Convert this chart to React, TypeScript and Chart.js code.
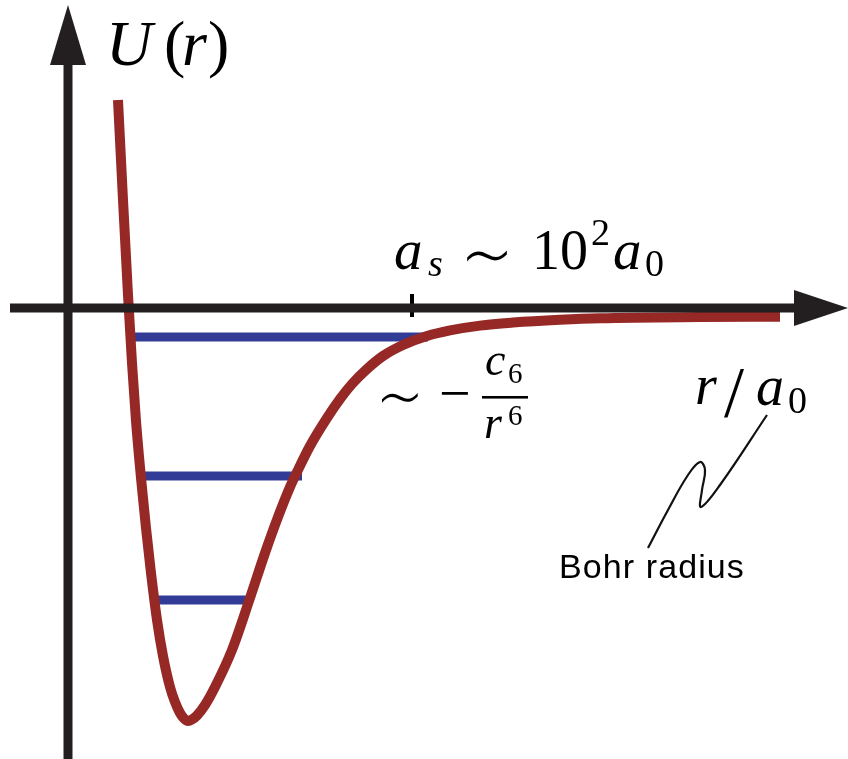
import { useEffect, useRef } from "react";
import { Chart, registerables } from "chart.js";

Chart.register(...registerables);

const WIDTH = 848;
const HEIGHT = 759;

// Plot window in diagram units (r to the right, U upwards)
const R_MIN = -6.8;
const R_MAX = 78.0;
const U_MIN = -45.1;
const U_MAX = 30.8;

// Potential energy curve U(r): repulsive wall, well, and -c6/r^6 tail
const curveR = [5.0, 5.5, 6.0, 6.4, 6.8, 7.3, 7.8, 8.3, 8.9, 9.5, 10.2, 10.7, 11.2, 11.6, 12.0, 12.4, 12.9, 13.7, 14.7, 16.4, 18.2, 19.7, 21.0, 22.2, 22.9, 24.2, 25.9, 27.2, 28.4, 29.9, 31.5, 33.5, 35.9, 38.2, 41.2, 44.5, 49.2, 53.2, 63.2, 71.2];
const curveU = [20.8, 10.8, 1.3, -5.5, -11.3, -17.0, -22.0, -26.5, -31.2, -34.8, -37.9, -39.4, -40.5, -41.05, -41.3, -41.15, -40.75, -39.7, -37.9, -34.2, -29.0, -24.5, -20.9, -17.9, -16.4, -13.8, -11.0, -9.1, -7.6, -6.1, -4.8, -3.7, -2.8, -2.24, -1.76, -1.46, -1.18, -1.02, -0.9, -0.87];

// Bound-state levels: energy and left/right turning points
const levelU = [-2.9, -16.8, -29.2];
const levelLeft = [6.7, 7.7, 9.0];
const levelRight = [36.0, 23.4, 17.9];

// Axes
const rAxisFrom = -5.8;
const rAxisTo = 72.6;
const uAxisFrom = -45.1;
const uAxisTo = 24.3;

// Tick marking the scattering length a_s
const asR = 34.4;
const asTickU = [1.4, -0.9];

// Leader line from the "Bohr radius" note to a_0
const leaderR = [58.0, 60.0, 62.0, 63.2, 63.7, 63.4, 63.3, 65.2, 69.9];
const leaderU = [-24.0, -20.2, -16.7, -15.4, -16.2, -18.2, -19.9, -17.7, -10.7];

const RED = "#962826";
const BLUE = "#323C96";
const INK = "#231F20";

const pts = (xs: number[], ys: number[]) => xs.map((x, i) => ({ x, y: ys[i] }));

const arrowPlugin = {
  id: "arrowHeads",
  afterDatasetsDraw(chart: any) {
    const { ctx, scales } = chart;
    const xs = scales.x;
    const ys = scales.y;
    ctx.save();
    ctx.fillStyle = INK;
    // r-axis arrow
    const tipX = xs.getPixelForValue(R_MAX);
    const baseX = xs.getPixelForValue(rAxisTo);
    const y0 = ys.getPixelForValue(0);
    const halfH = 18;
    ctx.beginPath();
    ctx.moveTo(tipX, y0);
    ctx.lineTo(baseX, y0 - halfH);
    ctx.lineTo(baseX, y0 + halfH);
    ctx.closePath();
    ctx.fill();
    // U-axis arrow
    const x0 = xs.getPixelForValue(0);
    const tipY = ys.getPixelForValue(30.3);
    const baseY = ys.getPixelForValue(uAxisTo);
    ctx.beginPath();
    ctx.moveTo(x0, tipY);
    ctx.lineTo(x0 - 18, baseY);
    ctx.lineTo(x0 + 18, baseY);
    ctx.closePath();
    ctx.fill();
    ctx.restore();
  },
};

const SERIF = `"Liberation Serif", "DejaVu Serif", serif`;
const SIM = `"DejaVu Sans"`;
const SANS = `"Liberation Sans", Arial, sans-serif`;

type Run = { t: string; x: number; y: number; font: string; spacing?: string };
// A glyph fitted to a given width and centred on (cx, cy)
type Fitted = { t: string; cx: number; cy: number; w: number; family: string; weight: string };

function drawFitted(ctx: CanvasRenderingContext2D, g: Fitted) {
  ctx.font = `${g.weight} 100px ${g.family}`;
  const m = ctx.measureText(g.t);
  const w100 = m.actualBoundingBoxLeft + m.actualBoundingBoxRight || m.width;
  const size = (100 * g.w) / w100;
  ctx.font = `${g.weight} ${size}px ${g.family}`;
  const mm = ctx.measureText(g.t);
  const left = mm.actualBoundingBoxLeft;
  const right = mm.actualBoundingBoxRight;
  const asc = mm.actualBoundingBoxAscent;
  const desc = mm.actualBoundingBoxDescent;
  const x = g.cx - (right - left) / 2;
  const y = g.cy + (asc - desc) / 2;
  ctx.fillText(g.t, x, y);
}

const labelPlugin = {
  id: "mathLabels",
  afterDraw(chart: any) {
    const { ctx } = chart;
    ctx.save();
    ctx.fillStyle = "#000";
    ctx.textBaseline = "alphabetic";
    ctx.textAlign = "left";
    const runs: Run[] = [
      // U(r)
      { t: "U", x: 106, y: 65, font: `italic 64px ${SERIF}` },
      { t: "(", x: 164, y: 65, font: `64px ${SERIF}` },
      { t: "r", x: 182, y: 65, font: `italic 64px ${SERIF}` },
      { t: ")", x: 208, y: 65, font: `64px ${SERIF}` },
      // a_s ~ 10^2 a_0
      { t: "a", x: 394, y: 269, font: `italic 57px ${SERIF}` },
      { t: "s", x: 428, y: 276, font: `italic 38px ${SERIF}` },
      { t: "10", x: 532, y: 269, font: `56px ${SERIF}` },
      { t: "2", x: 591, y: 245, font: `38px ${SERIF}` },
      { t: "a", x: 613, y: 269, font: `italic 57px ${SERIF}` },
      { t: "0", x: 645, y: 276, font: `38px ${SERIF}` },
      // -c6 / r6
      { t: "\u2212", x: 439, y: 412, font: `56px ${SERIF}` },
      { t: "c", x: 485, y: 375, font: `italic 46px ${SERIF}` },
      { t: "6", x: 508, y: 383, font: `29px ${SERIF}` },
      { t: "r", x: 484, y: 438, font: `italic 46px ${SERIF}` },
      { t: "6", x: 508, y: 425, font: `29px ${SERIF}` },
      // r / a_0
      { t: "r", x: 695, y: 404, font: `italic 56px ${SERIF}` },
      { t: "/", x: 724, y: 416, font: `72px ${SERIF}` },
      { t: "a", x: 756, y: 405, font: `italic 56px ${SERIF}` },
      { t: "0", x: 788, y: 413, font: `38px ${SERIF}` },
      // note
      { t: "Bohr radius", x: 559, y: 578, font: `34px ${SANS}`, spacing: "1.1px" },
    ];
    for (const r of runs) {
      ctx.font = r.font;
      if ("letterSpacing" in ctx) (ctx as any).letterSpacing = r.spacing || "0px";
      ctx.fillText(r.t, r.x, r.y);
    }
    if ("letterSpacing" in ctx) (ctx as any).letterSpacing = "0px";
    // "~" signs
    const sims: Fitted[] = [
      { t: "\u223C", cx: 487, cy: 256, w: 40, family: SIM, weight: "200" },
      { t: "\u223C", cx: 400, cy: 397, w: 36, family: SIM, weight: "200" },
    ];
    for (const g of sims) drawFitted(ctx, g);
    // fraction bar
    ctx.fillRect(482, 396, 46, 2.6);
    ctx.restore();
  },
};

const FONT_FACES = [
  `italic 56px "Liberation Serif"`,
  `56px "Liberation Serif"`,
  `200 46px "DejaVu Sans"`,
  `46px "DejaVu Sans"`,
  `33px "Liberation Sans"`,
];

export default function App() {
  const canvasRef = useRef<HTMLCanvasElement | null>(null);

  useEffect(() => {
    const canvas = canvasRef.current;
    if (!canvas) return;
    let alive = true;

    const levelSets = levelU.map((u, i) => ({
      data: [
        { x: levelLeft[i], y: u },
        { x: levelRight[i], y: u },
      ],
      borderColor: BLUE,
      borderWidth: 9,
      borderCapStyle: "butt" as const,
      pointRadius: 0,
      order: 3,
    }));

    const chart = new Chart(canvas, {
      type: "line",
      data: {
        datasets: [
          {
            data: pts([rAxisFrom, rAxisTo], [0, 0]),
            borderColor: INK,
            borderWidth: 9,
            borderCapStyle: "butt",
            pointRadius: 0,
            order: 0,
          },
          {
            data: pts([0, 0], [uAxisFrom, uAxisTo]),
            borderColor: INK,
            borderWidth: 9,
            borderCapStyle: "butt",
            pointRadius: 0,
            order: 0,
          },
          {
            data: pts([asR, asR], asTickU),
            borderColor: "#000",
            borderWidth: 4,
            borderCapStyle: "butt",
            pointRadius: 0,
            order: 0,
          },
          {
            data: pts(curveR, curveU),
            borderColor: RED,
            borderWidth: 10,
            borderCapStyle: "butt",
            borderJoinStyle: "round",
            cubicInterpolationMode: "monotone",
            pointRadius: 0,
            order: 1,
          },
          ...levelSets,
          {
            data: pts(leaderR, leaderU),
            borderColor: "#111",
            borderWidth: 2.2,
            tension: 0.4,
            pointRadius: 0,
            order: 0,
          },
        ],
      },
      options: {
        responsive: false,
        animation: false,
        events: [],
        layout: { padding: 0 },
        plugins: {
          legend: { display: false },
          tooltip: { enabled: false },
          title: { display: false },
        },
        scales: {
          x: { type: "linear", min: R_MIN, max: R_MAX, display: false },
          y: { type: "linear", min: U_MIN, max: U_MAX, display: false },
        },
      },
      plugins: [arrowPlugin, labelPlugin],
    });

    // Redraw once the local fonts used for the labels are ready
    if (document.fonts) {
      Promise.all(FONT_FACES.map((f) => document.fonts.load(f)))
        .catch(() => undefined)
        .then(() => {
          if (alive) chart.draw();
        });
    }

    return () => {
      alive = false;
      chart.destroy();
    };
  }, []);

  return (
    <div style={{ position: "fixed", left: 0, top: 0, width: WIDTH, height: HEIGHT, background: "#fff" }}>
      <canvas ref={canvasRef} width={WIDTH} height={HEIGHT} style={{ display: "block" }} />
    </div>
  );
}
